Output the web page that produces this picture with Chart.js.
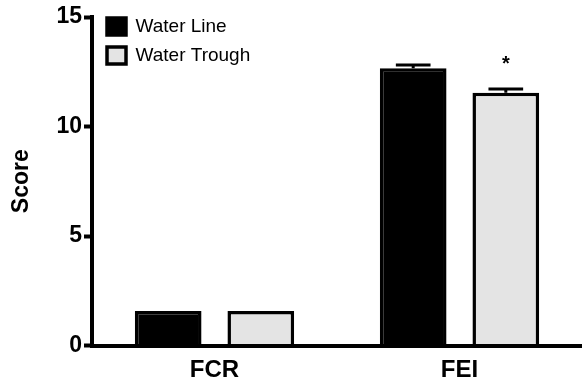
<!DOCTYPE html>
<html>
<head>
<meta charset="utf-8">
<script src="https://cdn.jsdelivr.net/npm/chart.js@4/dist/chart.umd.min.js"></script>
<style>
  html, body { margin: 0; padding: 0; background: #fff; }
  #wrap { width: 582px; height: 381px; }
</style>
</head>
<body>
<div id="wrap"><canvas id="score-chart"></canvas></div>
<script>
const categories = ['FCR', 'FEI'];
const seriesNames = ['Water Line', 'Water Trough'];
const waterLine = [1.58, 12.66];
const waterLineErr = [0, 0.15];
const waterTrough = [1.58, 11.54];
const waterTroughErr = [0, 0.17];
const waterTroughSig = ['', '*'];
const yTicks = [0, 5, 10, 15];

const FONT = "'Liberation Sans', Arial, sans-serif";

// error bars + significance marks on top of the bars
const errorBars = {
    id: 'errorBars',
    afterDatasetsDraw(chart) {
        const ctx = chart.ctx;
        const yScale = chart.scales.y;
        chart.data.datasets.forEach((ds, di) => {
            const meta = chart.getDatasetMeta(di);
            meta.data.forEach((bar, i) => {
                const err = ds.errors[i];
                let top = bar.y;
                if (err > 0) {
                    top = yScale.getPixelForValue(ds.data[i] + err);
                    const half = bar.width * 0.26;
                    ctx.save();
                    ctx.strokeStyle = '#000';
                    ctx.lineWidth = 3;
                    ctx.beginPath();
                    ctx.moveTo(bar.x, bar.y);
                    ctx.lineTo(bar.x, top);
                    ctx.moveTo(bar.x - half, top);
                    ctx.lineTo(bar.x + half, top);
                    ctx.stroke();
                    ctx.restore();
                }
                if (ds.sig && ds.sig[i]) {
                    ctx.save();
                    ctx.fillStyle = '#000';
                    ctx.font = 'bold 20px ' + FONT;
                    ctx.textAlign = 'center';
                    ctx.textBaseline = 'middle';
                    ctx.fillText(ds.sig[i], bar.x, top - 25);
                    ctx.restore();
                }
            });
        });
    }
};

// nudge the in-plot legend to the top-left corner of the axes
const legendNudge = {
    id: 'legendNudge',
    afterLayout(chart) {
        chart.legend.top += 7;
        chart.legend.left += 5;
    }
};

const scoreData = {
    labels: categories,
    datasets: [
        {
            label: seriesNames[0],
            data: waterLine,
            errors: waterLineErr,
            backgroundColor: '#000000',
            borderColor: '#000000',
            borderWidth: 3.5,
            borderSkipped: 'start',
            categoryPercentage: 0.756,
            barPercentage: 0.72
        },
        {
            label: seriesNames[1],
            data: waterTrough,
            errors: waterTroughErr,
            sig: waterTroughSig,
            backgroundColor: '#e4e4e4',
            borderColor: '#000000',
            borderWidth: 3.5,
            borderSkipped: 'start',
            categoryPercentage: 0.756,
            barPercentage: 0.72
        }
    ]
};

const scoreConfig = {
    type: 'bar',
    data: scoreData,
    options: {
        responsive: false,
        animation: false,
        devicePixelRatio: 1,
        layout: { padding: { top: 17, right: 0, bottom: 0, left: 0 } },
        plugins: {
            tooltip: { enabled: false },
            legend: {
                position: 'chartArea',
                align: 'start',
                labels: {
                    color: '#000',
                    font: { family: FONT, size: 19 },
                    boxWidth: 19,
                    boxHeight: 17,
                    padding: 10
                }
            }
        },
        scales: {
            x: {
                grid: { display: false },
                border: { display: true, color: '#000', width: 4, z: 1 },
                ticks: {
                    color: '#000',
                    font: { family: FONT, size: 24, weight: 'bold' },
                    padding: 2
                },
                afterFit(s) { s.height = 35.5; }
            },
            y: {
                min: 0,
                max: 15,
                afterBuildTicks(s) { s.ticks = yTicks.map(v => ({ value: v })); },
                grid: {
                    drawOnChartArea: false,
                    color: '#000',
                    tickColor: '#000',
                    tickLength: 8,
                    tickWidth: 4
                },
                border: { display: true, color: '#000', width: 4, z: 1 },
                ticks: {
                    color: '#000',
                    font: { family: FONT, size: 23, weight: 'bold' },
                    padding: 2
                },
                title: {
                    display: true,
                    text: 'Score',
                    color: '#000',
                    font: { family: FONT, size: 23, weight: 'bold', lineHeight: 1.2 },
                    padding: { top: 8, bottom: 0 }
                },
                afterFit(s) { s.width = 92; }
            }
        }
    },
    plugins: [errorBars, legendNudge]
};

const canvas = document.getElementById('score-chart');
canvas.width = 582;
canvas.height = 381;
const scoreChart = new Chart(canvas, scoreConfig);
</script>
</body>
</html>
